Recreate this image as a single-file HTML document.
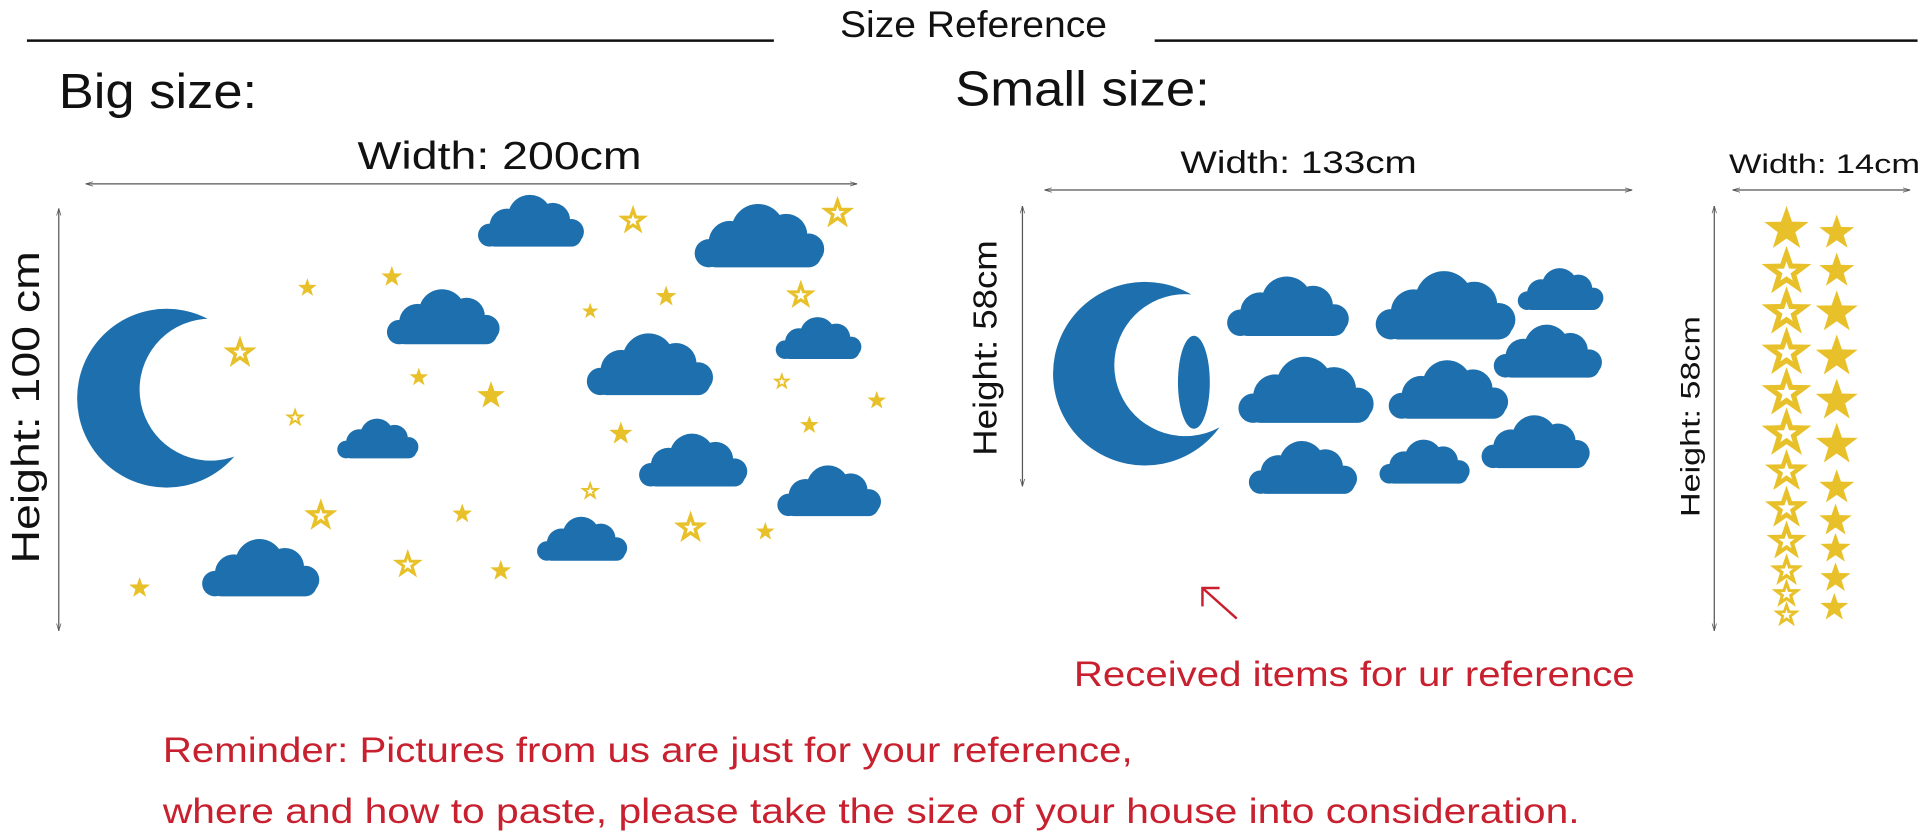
<!DOCTYPE html>
<html><head><meta charset="utf-8"><style>
html,body{margin:0;padding:0;background:#fff;width:1920px;height:838px;overflow:hidden}
svg{display:block}
text{font-family:"Liberation Sans",sans-serif}
</style></head><body>
<svg width="1920" height="838" viewBox="0 0 1568 684" xmlns="http://www.w3.org/2000/svg">
<defs>
<symbol id="cl" viewBox="0 0 100 50" overflow="visible">
<g fill="#1d70ad">
<circle cx="27" cy="28" r="15"/><circle cx="47" cy="20" r="19"/><circle cx="67" cy="23" r="15"/>
<circle cx="83" cy="33" r="11"/><circle cx="12" cy="36" r="10"/>
<rect x="8" y="28" width="84" height="18" rx="9"/>
</g>
</symbol>
<symbol id="sf" viewBox="-1 -1 2 2" overflow="visible"><polygon fill="#e8c12a" points="0,-1 0.235,-0.324 0.951,-0.309 0.38,0.124 0.588,0.809 0,0.4 -0.588,0.809 -0.38,0.124 -0.951,-0.309 -0.235,-0.324"/></symbol>
<symbol id="so" viewBox="-1 -1 2 2" overflow="visible"><polygon fill="none" stroke="#e8c12a" stroke-width="0.28" points="0,-1 0.235,-0.324 0.951,-0.309 0.38,0.124 0.588,0.809 0,0.4 -0.588,0.809 -0.38,0.124 -0.951,-0.309 -0.235,-0.324"/></symbol>
<mask id="m1"><rect width="1568" height="684" fill="#fff"/><circle cx="172" cy="318" r="58" fill="#000"/></mask>
<mask id="m2"><rect width="1568" height="684" fill="#fff"/><circle cx="968" cy="298" r="58" fill="#000"/></mask>
<marker id="ah" viewBox="0 0 10 10" refX="10" refY="5" markerWidth="6" markerHeight="6" orient="auto-start-reverse"><path d="M0,2 L10,5 L0,8" fill="none" stroke="#555" stroke-width="1"/></marker>
</defs>
<g stroke="#111" stroke-width="2"><line x1="22" y1="33" x2="632" y2="33"/><line x1="943" y1="33" x2="1566" y2="33"/></g>
<text x="686" y="30" font-size="30" textLength="218" lengthAdjust="spacingAndGlyphs" fill="#111">Size Reference</text>
<text x="48" y="88" font-size="40" textLength="162" lengthAdjust="spacingAndGlyphs" fill="#111">Big size:</text>
<text x="780" y="86" font-size="40" textLength="208" lengthAdjust="spacingAndGlyphs" fill="#111">Small size:</text>
<text x="292" y="138" font-size="32" textLength="232" lengthAdjust="spacingAndGlyphs" fill="#111">Width: 200cm</text>
<text x="964" y="141" font-size="26" textLength="193" lengthAdjust="spacingAndGlyphs" fill="#111">Width: 133cm</text>
<text x="1412" y="141" font-size="22" textLength="156" lengthAdjust="spacingAndGlyphs" fill="#111">Width: 14cm</text>
<g stroke="#555" stroke-width="1" marker-start="url(#ah)" marker-end="url(#ah)">
<line x1="70" y1="150" x2="700" y2="150"/><line x1="48" y1="170" x2="48" y2="515"/>
<line x1="853" y1="155" x2="1333" y2="155"/><line x1="835" y1="168" x2="835" y2="397"/>
<line x1="1415" y1="155" x2="1560" y2="155"/><line x1="1400" y1="168" x2="1400" y2="515"/>
</g>
<text transform="translate(32,460) rotate(-90)" font-size="32" textLength="255" lengthAdjust="spacingAndGlyphs" fill="#111">Height: 100 cm</text>
<text transform="translate(814,372) rotate(-90)" font-size="27" textLength="176" lengthAdjust="spacingAndGlyphs" fill="#111">Height: 58cm</text>
<text transform="translate(1388,422) rotate(-90)" font-size="22" textLength="164" lengthAdjust="spacingAndGlyphs" fill="#111">Height: 58cm</text>
<circle cx="136" cy="325" r="73" fill="#1d70ad" mask="url(#m1)"/>
<circle cx="935" cy="305" r="75" fill="#1d70ad" mask="url(#m2)"/>
<ellipse cx="975" cy="312" rx="13" ry="38" fill="#1d70ad"/>
<g>
<use href="#cl" x="388" y="158" width="95" height="47"/>
<use href="#cl" x="565" y="165" width="115" height="58"/>
<use href="#cl" x="314" y="234" width="100" height="52"/>
<use href="#cl" x="477" y="270" width="112" height="58"/>
<use href="#cl" x="632" y="258" width="76" height="38"/>
<use href="#cl" x="274" y="340" width="72" height="38"/>
<use href="#cl" x="520" y="352" width="96" height="50"/>
<use href="#cl" x="633" y="378" width="92" height="48"/>
<use href="#cl" x="437" y="420" width="80" height="42"/>
<use href="#cl" x="163" y="438" width="104" height="54"/>
<use href="#cl" x="1000" y="224" width="108" height="55"/>
<use href="#cl" x="1117" y="220" width="132" height="62"/>
<use href="#cl" x="1237" y="218" width="78" height="38"/>
<use href="#cl" x="1008" y="290" width="122" height="60"/>
<use href="#cl" x="1132" y="292" width="106" height="55"/>
<use href="#cl" x="1218" y="262" width="96" height="52"/>
<use href="#cl" x="1018" y="357" width="96" height="52"/>
<use href="#cl" x="1125" y="357" width="80" height="42"/>
<use href="#cl" x="1208" y="336" width="96" height="52"/>
</g>
<g>
<use href="#so" x="508" y="171" width="18" height="18"/><use href="#so" x="674" y="164" width="20" height="20"/>
<use href="#sf" x="311" y="217" width="18" height="18"/><use href="#sf" x="243" y="227" width="16" height="16"/>
<use href="#sf" x="535" y="233" width="18" height="18"/><use href="#so" x="645" y="232" width="18" height="18"/>
<use href="#sf" x="475" y="247" width="14" height="14"/><use href="#so" x="186" y="278" width="20" height="20"/>
<use href="#sf" x="334" y="300" width="16" height="16"/><use href="#sf" x="389" y="311" width="24" height="24"/>
<use href="#so" x="633" y="306" width="11" height="11"/><use href="#sf" x="708" y="319" width="16" height="16"/>
<use href="#so" x="235" y="335" width="12" height="12"/><use href="#sf" x="653" y="339" width="16" height="16"/>
<use href="#sf" x="497" y="344" width="20" height="20"/><use href="#so" x="476" y="395" width="12" height="12"/>
<use href="#so" x="252" y="411" width="20" height="20"/><use href="#sf" x="369" y="411" width="17" height="17"/>
<use href="#so" x="554" y="421" width="20" height="20"/><use href="#sf" x="617" y="426" width="16" height="16"/>
<use href="#sf" x="105" y="471" width="18" height="18"/><use href="#so" x="324" y="452" width="18" height="18"/>
<use href="#sf" x="400" y="457" width="18" height="18"/>
</g>
<g>
<use href="#sf" x="1440" y="168" width="38" height="38"/>
<use href="#so" x="1444" y="207" width="30" height="30"/>
<use href="#so" x="1444" y="240" width="30" height="30"/>
<use href="#so" x="1444" y="273" width="30" height="30"/>
<use href="#so" x="1444" y="306" width="30" height="30"/>
<use href="#so" x="1444" y="339" width="30" height="30"/>
<use href="#so" x="1446" y="372" width="26" height="26"/>
<use href="#so" x="1446" y="402" width="26" height="26"/>
<use href="#so" x="1447" y="430" width="24" height="24"/>
<use href="#so" x="1449" y="456" width="20" height="20"/>
<use href="#so" x="1450" y="476" width="18" height="18"/>
<use href="#so" x="1451" y="494" width="16" height="16"/>
<use href="#sf" x="1485" y="175" width="30" height="30"/>
<use href="#sf" x="1485" y="206" width="30" height="30"/>
<use href="#sf" x="1482" y="237" width="36" height="36"/>
<use href="#sf" x="1482" y="273" width="36" height="36"/>
<use href="#sf" x="1482" y="309" width="36" height="36"/>
<use href="#sf" x="1482" y="345" width="36" height="36"/>
<use href="#sf" x="1485" y="383" width="30" height="30"/>
<use href="#sf" x="1485" y="411" width="28" height="28"/>
<use href="#sf" x="1486" y="435" width="26" height="26"/>
<use href="#sf" x="1486" y="459" width="26" height="26"/>
<use href="#sf" x="1486" y="484" width="24" height="24"/>
</g>
<g stroke="#c8202e" stroke-width="2" fill="none"><path d="M1010,505 L982,480"/><path d="M982,495 L982,480 L996,480"/></g>
<text x="877" y="560" font-size="29" textLength="458" lengthAdjust="spacingAndGlyphs" fill="#c8202e">Received items for ur reference</text>
<text x="133" y="622" font-size="29" textLength="792" lengthAdjust="spacingAndGlyphs" fill="#c8202e">Reminder: Pictures from us are just for your reference,</text>
<text x="133" y="672" font-size="29" textLength="1157" lengthAdjust="spacingAndGlyphs" fill="#c8202e">where and how to paste, please take the size of your house into consideration.</text>
</svg>
</body></html>
